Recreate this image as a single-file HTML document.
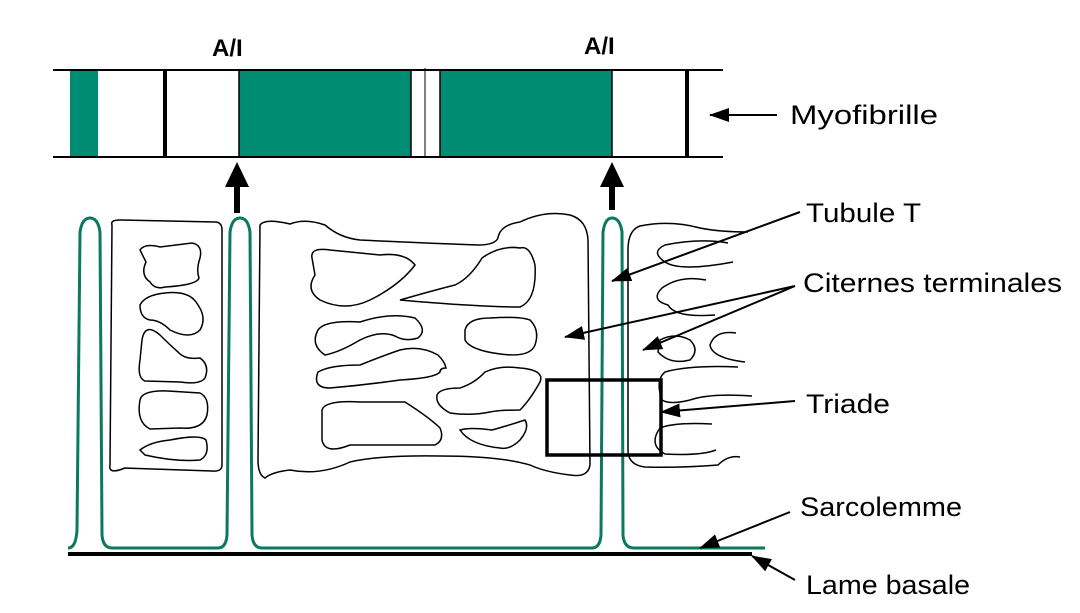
<!DOCTYPE html>
<html><head><meta charset="utf-8"><style>
html,body{margin:0;padding:0;background:#fff;}
svg{display:block;}
text{font-family:"Liberation Sans",sans-serif;fill:#000;}
</style></head><body>
<svg width="1080" height="613" viewBox="0 0 1080 613" xmlns="http://www.w3.org/2000/svg">
<defs>
<marker id="ah2" markerWidth="20" markerHeight="14" refX="19" refY="7" orient="auto" markerUnits="userSpaceOnUse">
<path d="M0,0 L20,7 L0,14 Z" fill="#000"/>
</marker>
</defs>
<!-- Myofibril -->
<rect x="70" y="70" width="28" height="87" fill="#008c72"/>
<rect x="239" y="70" width="172" height="87" fill="#008c72"/>
<rect x="440" y="70" width="172" height="87" fill="#008c72"/>
<line x1="53" y1="70" x2="723" y2="70" stroke="#000" stroke-width="2"/>
<line x1="53" y1="157" x2="723" y2="157" stroke="#000" stroke-width="2"/>
<line x1="165" y1="70" x2="165" y2="157" stroke="#000" stroke-width="4"/>
<line x1="687" y1="70" x2="687" y2="157" stroke="#000" stroke-width="4"/>
<line x1="239" y1="70" x2="239" y2="157" stroke="#000" stroke-width="1.5"/>
<line x1="612" y1="70" x2="612" y2="157" stroke="#000" stroke-width="1.5"/>
<line x1="411" y1="70" x2="411" y2="157" stroke="#000" stroke-width="1.5"/>
<line x1="425" y1="68" x2="425" y2="157" stroke="#000" stroke-width="1"/>
<line x1="440" y1="70" x2="440" y2="157" stroke="#000" stroke-width="1.5"/>
<text x="212" y="56" font-size="24" font-weight="bold">A/I</text>
<text x="584" y="54" font-size="24" font-weight="bold">A/I</text>
<!-- up arrows -->
<line x1="237" y1="213" x2="237" y2="185" stroke="#000" stroke-width="6"/>
<path d="M225,187 L237,162 L249,187 Z" fill="#000"/>
<line x1="612" y1="210" x2="612" y2="185" stroke="#000" stroke-width="6"/>
<path d="M600,187 L612,162 L624,187 Z" fill="#000"/>
<!-- Sarcolemma green -->
<path d="M68,548 Q76,548 77,530 L80,232 Q82,218 90,218 Q98,218 100,232 L102,535 Q103,548 112,548 L218,548 Q226,548 227,535 L230,232 Q232,218 240,218 Q248,218 250,232 L252,535 Q253,548 262,548 L592,548 Q600,548 601,535 L603,232 Q605,218 612,218 Q620,218 622,232 L623,535 Q624,548 634,548 L765,548" fill="none" stroke="#0a7a5e" stroke-width="3"/>
<line x1="68" y1="554" x2="752" y2="554" stroke="#000" stroke-width="4"/>
<!-- cell 1 -->
<path d="M112,225 Q110,220 120,220 L215,222 Q222,222 222,230 L222,465 Q222,472 212,471 L125,468 Q108,475 110,465 Z" fill="none" stroke="#000" stroke-width="1.5"/>
<path d="M140,250 Q145,243 160,247 L192,243 Q203,245 200,258 Q196,270 199,278 Q197,285 165,287 Q155,290 150,282 Q140,275 146,262 Z" fill="none" stroke="#000" stroke-width="1.5"/>
<path d="M140,305 Q145,295 165,293 Q190,290 198,305 Q207,318 200,330 Q190,340 170,330 Q160,320 150,320 Q140,318 140,305 Z" fill="none" stroke="#000" stroke-width="1.5"/>
<path d="M142,340 Q145,322 160,335 Q170,345 178,352 Q185,360 200,358 Q210,365 205,378 Q200,385 180,382 L145,381 Q137,378 140,360 Z" fill="none" stroke="#000" stroke-width="1.5"/>
<path d="M140,400 Q142,390 168,391 L200,393 Q210,398 207,415 Q203,430 180,428 L150,429 Q136,422 140,400 Z" fill="none" stroke="#000" stroke-width="1.5"/>
<path d="M140,450 Q150,442 170,440 Q200,434 206,440 Q210,455 200,460 Q175,462 145,455 Z" fill="none" stroke="#000" stroke-width="1.5"/>
<!-- cell 2 -->
<path d="M260,225 Q265,218 290,224 Q305,218 325,225 Q340,238 360,240 Q420,243 478,245 Q495,245 498,238 Q500,225 520,222 Q545,210 570,215 Q587,220 588,240 L590,465 Q588,478 570,475 Q545,472 530,465 Q500,456 440,456 Q380,455 350,462 Q320,476 290,470 Q272,472 265,478 Q258,475 258,460 Z" fill="none" stroke="#000" stroke-width="1.5"/>
<path d="M312,258 Q310,247 330,250 L380,255 Q405,252 415,265 Q400,285 370,300 Q345,312 320,300 Q305,290 315,275 Z" fill="none" stroke="#000" stroke-width="1.5"/>
<path d="M330,300 Q365,290 385,285 Q400,278 412,258 Q430,245 450,248 Q460,245 465,265 Q467,300 450,307 Q410,307 330,300 Z" fill="none" stroke="#000" stroke-width="1.5" transform="translate(70,0)"/>
<path d="M318,330 Q325,320 360,322 Q390,312 415,318 Q428,330 418,338 Q405,342 395,336 Q380,330 360,340 Q340,352 325,355 Q310,345 318,330 Z" fill="none" stroke="#000" stroke-width="1.5"/>
<path d="M465,330 Q468,318 490,318 Q520,316 530,320 Q540,330 535,345 Q530,358 500,354 Q470,350 465,340 Z" fill="none" stroke="#000" stroke-width="1.5"/>
<path d="M318,372 Q330,365 360,365 Q385,355 400,350 Q420,345 438,355 Q445,362 446,368 Q440,368 440,372 Q435,378 400,380 Q365,385 330,388 Q312,388 318,372 Z" fill="none" stroke="#000" stroke-width="1.5"/>
<path d="M437,395 Q440,388 460,388 Q475,383 485,372 Q500,365 520,368 Q545,370 540,382 Q530,400 520,410 Q500,410 490,412 Q470,416 450,413 Q435,405 437,395 Z" fill="none" stroke="#000" stroke-width="1.5"/>
<path d="M322,410 Q325,400 360,402 L405,402 Q430,418 440,428 Q445,440 435,445 L350,445 Q325,455 322,440 Z" fill="none" stroke="#000" stroke-width="1.5"/>
<path d="M460,430 Q470,427 492,430 Q510,425 525,420 Q530,428 520,440 Q510,450 500,448 Q470,445 460,430 Z" fill="none" stroke="#000" stroke-width="1.5"/>
<!-- right region -->
<path d="M748,232 Q720,232 700,228 Q670,220 640,226 Q628,230 628,250 L628,450 Q628,465 645,467 Q680,468 718,465 Q728,455 740,457" fill="none" stroke="#000" stroke-width="1.5"/>
<path d="M728,243 Q700,238 665,245 Q650,252 665,262 Q680,272 733,262" fill="none" stroke="#000" stroke-width="1.5"/>
<path d="M706,280 Q680,275 662,288 Q650,300 668,305 Q675,318 715,315" fill="none" stroke="#000" stroke-width="1.5"/>
<path d="M660,340 Q675,332 690,340 Q700,350 690,360 Q670,365 658,352 Z" fill="none" stroke="#000" stroke-width="1.5"/>
<path d="M736,333 Q715,330 710,345 Q712,358 745,362" fill="none" stroke="#000" stroke-width="1.5"/>
<path d="M738,367 Q690,365 665,372 Q655,380 662,400 Q670,405 690,400 Q710,393 752,396" fill="none" stroke="#000" stroke-width="1.5"/>
<path d="M712,424 Q675,422 660,428 Q648,445 665,454 Q700,456 716,450" fill="none" stroke="#000" stroke-width="1.5"/>
<!-- triade box -->
<rect x="547" y="380" width="114" height="75" fill="none" stroke="#000" stroke-width="3.5"/>
<!-- label arrows -->
<line x1="777" y1="115" x2="710" y2="115" stroke="#000" stroke-width="2" marker-end="url(#ah2)"/>
<line x1="800" y1="212" x2="612" y2="281" stroke="#000" stroke-width="2" marker-end="url(#ah2)"/>
<line x1="795" y1="286" x2="565" y2="337" stroke="#000" stroke-width="2" marker-end="url(#ah2)"/>
<line x1="795" y1="286" x2="643" y2="350" stroke="#000" stroke-width="2" marker-end="url(#ah2)"/>
<line x1="795" y1="401" x2="661" y2="412" stroke="#000" stroke-width="2" marker-end="url(#ah2)"/>
<line x1="790" y1="512" x2="700" y2="548" stroke="#000" stroke-width="2" marker-end="url(#ah2)"/>
<line x1="795" y1="580" x2="752" y2="556" stroke="#000" stroke-width="2" marker-end="url(#ah2)"/>
<text x="790" y="124" font-size="27" textLength="148" lengthAdjust="spacingAndGlyphs">Myofibrille</text>
<text x="806" y="222" font-size="27" textLength="115" lengthAdjust="spacingAndGlyphs">Tubule T</text>
<text x="803" y="292" font-size="27" textLength="259" lengthAdjust="spacingAndGlyphs">Citernes terminales</text>
<text x="806" y="413" font-size="27" textLength="84" lengthAdjust="spacingAndGlyphs">Triade</text>
<text x="800" y="516" font-size="27" textLength="162" lengthAdjust="spacingAndGlyphs">Sarcolemme</text>
<text x="806" y="594" font-size="27" textLength="164" lengthAdjust="spacingAndGlyphs">Lame basale</text>
</svg>
</body></html>
